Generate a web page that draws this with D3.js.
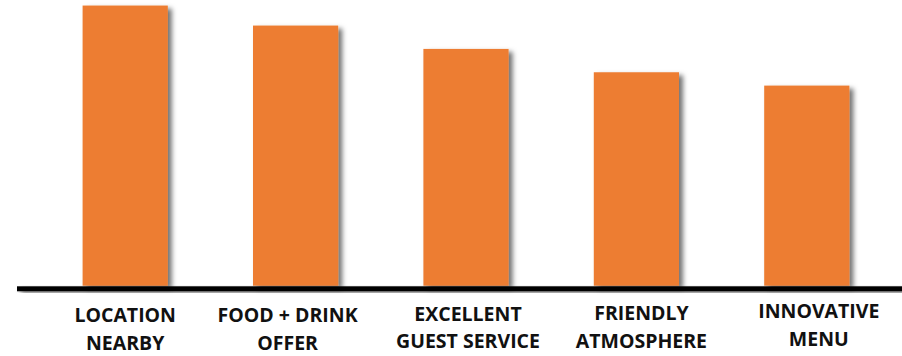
<!DOCTYPE html>
<html>
<head>
<meta charset="utf-8">
<script src="https://cdn.jsdelivr.net/npm/d3@7"></script>
<style>
  html, body { margin: 0; padding: 0; background: #fff; }
  svg { display: block; }
  .cat-label { font-family: "Open Sans", Lato, sans-serif; font-weight: 700; font-size: 19.5px; fill: #111; }
</style>
</head>
<body>
<div id="chart"></div>
<script>
// Reasons guests choose a venue (share of respondents, %)
const categories = ["LOCATION NEARBY", "FOOD + DRINK OFFER", "EXCELLENT GUEST SERVICE", "FRIENDLY ATMOSPHERE", "INNOVATIVE MENU"];
const labelLines = [["LOCATION", "NEARBY"], ["FOOD + DRINK", "OFFER"], ["EXCELLENT", "GUEST SERVICE"], ["FRIENDLY", "ATMOSPHERE"], ["INNOVATIVE", "MENU"]];
const values = [84, 78, 71, 64, 60];

// layout
const width = 902, height = 356;
const baseY = 285.7;
const plotLeft = 40, plotRight = 892;
// small hand-placed offsets of the label text boxes (dx, first baseline, line gap)
const labelNudge = [[0, 322, 28], [-8, 322, 28], [2, 320.5, 27.5], [5, 320, 27.5], [12, 318, 28]];

const svg = d3.select("#chart").append("svg")
  .attr("width", width).attr("height", height);

const defs = svg.append("defs");
const shadow = defs.append("filter").attr("id", "barShadow")
  .attr("x", "-20%").attr("y", "-20%").attr("width", "150%").attr("height", "150%");
shadow.append("feDropShadow")
  .attr("dx", 4).attr("dy", 3).attr("stdDeviation", 2.6)
  .attr("flood-color", "#000").attr("flood-opacity", 0.55);

const x = d3.scaleBand().domain(categories).range([plotLeft, plotRight]).paddingInner(0.5).paddingOuter(0.25);
const y = d3.scaleLinear().domain([0, 100]).range([baseY, baseY - 333.5]);

// bars
svg.append("g").selectAll("rect")
  .data(categories)
  .join("rect")
  .attr("x", d => x(d))
  .attr("y", (d, i) => y(values[i]))
  .attr("width", x.bandwidth())
  .attr("height", (d, i) => y(0) - y(values[i]))
  .attr("fill", "#ED7D31")
  .attr("filter", "url(#barShadow)");

// baseline
svg.append("rect")
  .attr("x", 17).attr("y", baseY + 0.6)
  .attr("width", width - 17).attr("height", 5)
  .attr("fill", "#000")
  .attr("filter", "url(#barShadow)");

// category labels
const labels = svg.append("g").selectAll("text")
  .data(categories)
  .join("text")
  .attr("class", "cat-label")
  .attr("text-anchor", "middle")
  .attr("transform", (d, i) => `translate(${x(d) + x.bandwidth() / 2 + labelNudge[i][0]},${labelNudge[i][1]})`);

labels.selectAll("tspan")
  .data((d, i) => labelLines[i].map(t => ({ t, gap: labelNudge[i][2] })))
  .join("tspan")
  .attr("x", 0)
  .attr("y", (d, j) => j * d.gap)
  .text(d => d.t);
</script>
</body>
</html>
